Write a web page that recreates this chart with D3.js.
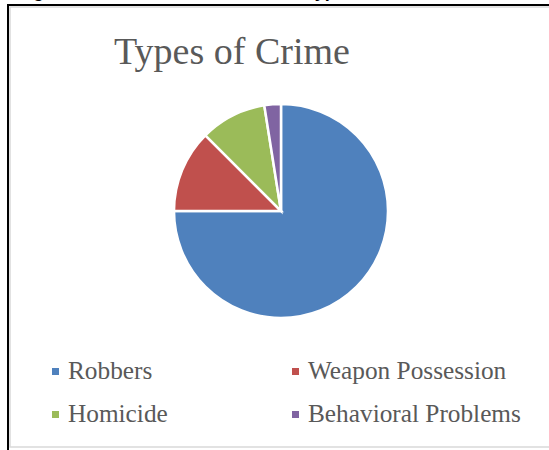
<!DOCTYPE html>
<html>
<head>
<meta charset="utf-8">
<script src="https://cdn.jsdelivr.net/npm/d3@7"></script>
<style>
  html, body { margin: 0; padding: 0; background: #fff; }
  svg { display: block; }
</style>
</head>
<body>
<svg id="canvas" width="549" height="450"></svg>
<script>
// chart data
const categories = ['Robbers', 'Weapon Possession', 'Homicide', 'Behavioral Problems']
const values = [30, 5, 4, 1]
const colors = ['#4F81BD', '#C0504D', '#9BBB59', '#8064A2']
const title = 'Types of Crime'

let canvas = d3.select('#canvas')
const font = '"Liberation Serif", "Times New Roman", serif'

// page caption cut off at top edge
canvas.append('text')
      .attr('x', 17)
      .attr('y', -3)
      .attr('font-family', '"Liberation Sans", Arial, sans-serif')
      .attr('font-weight', 'bold')
      .attr('font-size', 18)
      .attr('fill', '#000')
      .text('Figure 4.3: The Inmates and')
canvas.append('text')
      .attr('x', 305)
      .attr('y', -3)
      .attr('font-family', '"Liberation Sans", Arial, sans-serif')
      .attr('font-weight', 'bold')
      .attr('font-size', 18)
      .attr('fill', '#000')
      .text('Types of Crime')

// chart frame
canvas.append('rect')
      .attr('x', 10)
      .attr('y', 7)
      .attr('width', 560)
      .attr('height', 440)
      .attr('fill', '#fff')
      .attr('stroke', '#d9d9d9')
      .attr('stroke-width', 1.5)
canvas.append('path')
      .attr('d', 'M8,452 V5 H560')
      .attr('fill', 'none')
      .attr('stroke', '#000')
      .attr('stroke-width', 2)

canvas.append('text')
      .attr('x', 232)
      .attr('y', 64)
      .attr('text-anchor', 'middle')
      .attr('font-family', font)
      .attr('font-size', 38)
      .attr('fill', '#595959')
      .text(title)

const cx = 281, cy = 211, radius = 107

const pie = d3.pie().sort(null).value(d => d)
const arc = d3.arc().innerRadius(0).outerRadius(radius)

canvas.append('g')
      .attr('transform', `translate(${cx},${cy})`)
      .selectAll('path')
      .data(pie(values))
      .enter()
      .append('path')
      .attr('d', arc)
      .attr('fill', (d, i) => colors[i])
      .attr('stroke', '#fff')
      .attr('stroke-width', 2.5)
      .attr('stroke-linejoin', 'miter')

// legend, two columns
const colX = d3.scaleOrdinal().domain([0, 1]).range([52, 292])
const rowY = d3.scaleOrdinal().domain([0, 1]).range([379, 422])

const legend = canvas.selectAll('.legend')
      .data(categories)
      .enter()
      .append('g')
      .attr('class', 'legend')
      .attr('transform', (d, i) => `translate(${colX(i % 2)},${rowY(Math.floor(i / 2))})`)

legend.append('rect')
      .attr('x', 0)
      .attr('y', -11)
      .attr('width', 7)
      .attr('height', 7)
      .attr('fill', (d, i) => colors[i])

legend.append('text')
      .attr('x', 16)
      .attr('y', 0)
      .attr('font-family', font)
      .attr('font-size', 25.3)
      .attr('fill', '#595959')
      .text(d => d)
</script>
</body>
</html>
